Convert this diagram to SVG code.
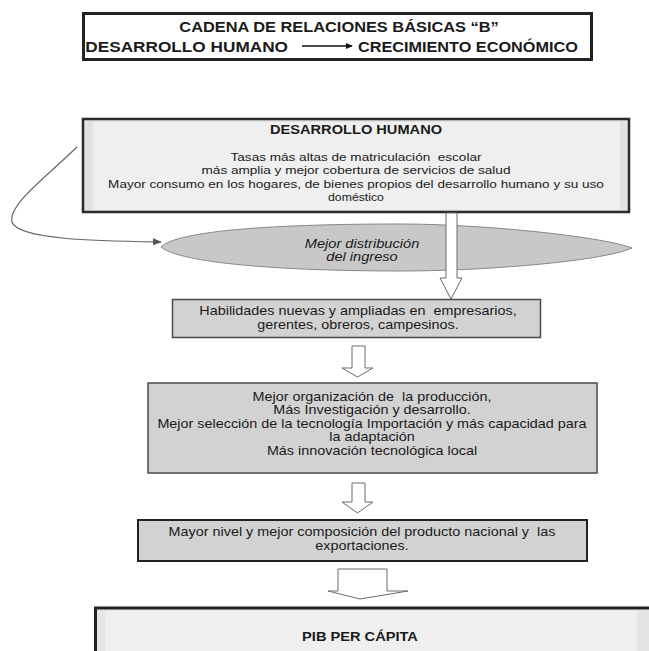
<svg xmlns="http://www.w3.org/2000/svg" width="649" height="651" viewBox="0 0 649 651">
<style>
text{font-family:"Liberation Sans",Arial,Helvetica,sans-serif;fill:#1a1a1a;white-space:pre}
.t{font-size:14px;font-weight:bold}
.h{font-size:12.5px;font-weight:bold}
.b{font-size:11.6px}
.s{font-size:10.5px}
.c{font-size:12.3px}
.i{font-size:12.5px;font-style:italic}
.bx{fill:#d2d2d2;stroke:#4a4a4a;stroke-width:1.5}
.ar{fill:#fff;stroke:#6a6a6a;stroke-width:1}
</style>
<defs>
<marker id="ah" markerWidth="9" markerHeight="7" refX="8" refY="3.5" orient="auto" markerUnits="userSpaceOnUse"><path d="M0,0 L9,3.5 L0,7 Z" fill="#555"/></marker>
<marker id="ak" markerWidth="7" markerHeight="6" refX="6" refY="3" orient="auto" markerUnits="userSpaceOnUse"><path d="M0,0 L7,3 L0,6 Z" fill="#111"/></marker>
</defs>
<rect width="649" height="651" fill="#fff"/>

<g id="title">
<rect x="83.5" y="13.5" width="508" height="46" fill="#fff" stroke="#222" stroke-width="3"/>
<g transform="translate(339,32) scale(1.17,1)"><text class="t" text-anchor="middle">CADENA DE RELACIONES BÁSICAS “B”</text></g>
<g transform="translate(288,52) scale(1.23,1)"><text class="t" text-anchor="end">DESARROLLO HUMANO</text></g>
<line x1="302" y1="46" x2="352" y2="46" stroke="#111" stroke-width="1.3" marker-end="url(#ak)"/>
<g transform="translate(358,52) scale(1.16,1)"><text class="t">CRECIMIENTO ECONÓMICO</text></g>
</g>

<g id="desarrollo-humano">
<rect x="83" y="119" width="546" height="93" fill="#e2e2e2" stroke="#2a2a2a" stroke-width="2.5"/>
<rect x="93" y="122" width="527" height="88" fill="#efefef"/>
<g transform="translate(356,0) scale(1.17,1)">
<text class="h" x="0" y="134" text-anchor="middle">DESARROLLO HUMANO</text>
<text class="b" x="0" y="161" text-anchor="middle">Tasas más altas de matriculación  escolar</text>
<text class="b" x="0" y="174.5" text-anchor="middle">más amplia y mejor cobertura de servicios de salud</text>
<text class="b" x="0" y="188" text-anchor="middle">Mayor consumo en los hogares, de bienes propios del desarrollo humano y su uso</text>
<text class="s" x="0" y="201" text-anchor="middle">doméstico</text>
</g>
</g>

<g id="distribucion">
<path d="M161,247 C178,230 280,224 400,224 C480,224 600,236 632,248 C600,262 480,271 400,271 C280,271 180,263 161,247 Z" fill="#c8c8c8" stroke="#888" stroke-width="1"/>
<g transform="translate(362,0) scale(1.17,1)">
<text class="i" x="0" y="248" text-anchor="middle">Mejor distribución</text>
<text class="i" x="0" y="261" text-anchor="middle">del ingreso</text>
</g>
</g>

<g id="habilidades">
<rect class="bx" x="172.5" y="299.5" width="368" height="38"/>
<g transform="translate(358,0) scale(1.17,1)">
<text class="c" x="0" y="315" text-anchor="middle">Habilidades nuevas y ampliadas en  empresarios,</text>
<text class="c" x="0" y="329.5" text-anchor="middle">gerentes, obreros, campesinos.</text>
</g>
</g>

<g id="organizacion">
<rect class="bx" x="148" y="383" width="449" height="90"/>
<g transform="translate(372,0) scale(1.17,1)">
<text class="c" x="0" y="401" text-anchor="middle">Mejor organización de  la producción,</text>
<text class="c" x="0" y="414.5" text-anchor="middle">Más Investigación y desarrollo.</text>
<text class="c" x="0" y="428" text-anchor="middle">Mejor selección de la tecnología Importación y más capacidad para</text>
<text class="c" x="0" y="441.5" text-anchor="middle">la adaptación</text>
<text class="c" x="0" y="455" text-anchor="middle">Más innovación tecnológica local</text>
</g>
</g>

<g id="producto">
<rect x="138" y="520" width="449" height="41" fill="#d2d2d2" stroke="#222" stroke-width="2"/>
<g transform="translate(362,0) scale(1.17,1)">
<text class="c" x="0" y="536" text-anchor="middle">Mayor nivel y mejor composición del producto nacional y  las</text>
<text class="c" x="0" y="550" text-anchor="middle">exportaciones.</text>
</g>
</g>

<g id="pib">
<rect x="95.5" y="608" width="570" height="60" fill="#e4e4e4" stroke="#222" stroke-width="3"/>
<rect x="105" y="611" width="532" height="45" fill="#efefef"/>
<g transform="translate(360,0) scale(1.17,1)">
<text class="h" x="0" y="641" text-anchor="middle">PIB PER CÁPITA</text>
</g>
</g>

<g id="connectors">
<path d="M77,147 C45,178 8,205 12,222 C18,240 100,241 161,242" fill="none" stroke="#666" stroke-width="1.2" marker-end="url(#ah)"/>
<polygon class="ar" points="446,213 457,213 457,278 462,278 451,299 440,278 446,278"/>
<polygon class="ar" points="352,346 365,346 365,368 373,368 357.5,377 342,368 352,368"/>
<polygon class="ar" points="352,483 365,483 365,502 373,502 357.5,513 342,502 352,502"/>
<polygon class="ar" points="338,569 387,569 387,591 408,591 360,599 328,591 338,591"/>
</g>
</svg>
